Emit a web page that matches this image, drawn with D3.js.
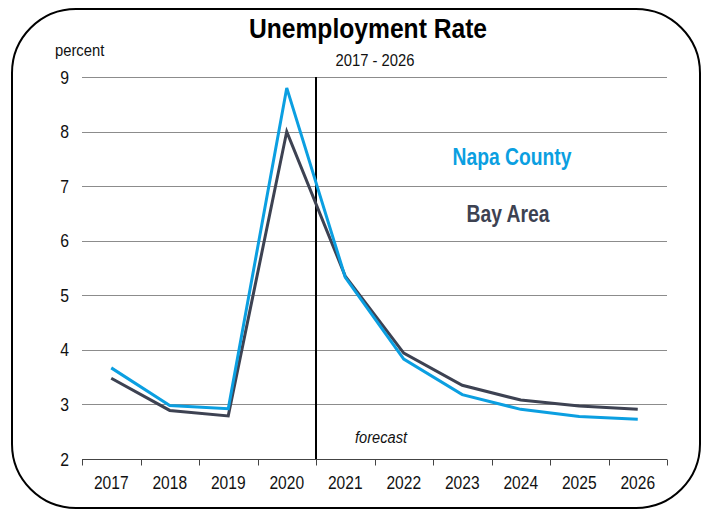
<!DOCTYPE html>
<html>
<head>
<meta charset="utf-8">
<script src="https://cdn.jsdelivr.net/npm/d3@7/dist/d3.min.js"></script>
<style>
  html, body { margin: 0; padding: 0; background: #fff; }
  svg { display: block; }
  text { font-family: "Liberation Sans", Arial, sans-serif; }
</style>
</head>
<body>
<svg id="chart" width="708" height="514"></svg>
<script>
// Unemployment rate, percent
const years = ["2017", "2018", "2019", "2020", "2021", "2022", "2023", "2024", "2025", "2026"];
const napaCounty = [3.67, 2.98, 2.92, 8.8, 5.33, 3.83, 3.18, 2.91, 2.78, 2.73];
const bayArea    = [3.48, 2.89, 2.79, 8.0, 5.35, 3.94, 3.35, 3.08, 2.97, 2.91];
const yTicks = [2, 3, 4, 5, 6, 7, 8, 9];
const forecastStart = "2021";

const svg = d3.select("#chart");

// condensed text: place at (x, y) and squeeze horizontally
function label(parent, x, y, str, opts) {
  const o = Object.assign({ size: 16, sx: 0.85, anchor: "middle", weight: "normal", style: "normal", fill: "#111" }, opts);
  return parent.append("text")
    .attr("transform", `translate(${x},${y}) scale(${o.sx},1)`)
    .attr("text-anchor", o.anchor)
    .attr("font-size", o.size)
    .attr("font-weight", o.weight)
    .attr("font-style", o.style)
    .attr("fill", o.fill)
    .text(str);
}

// outer rounded frame
svg.append("rect")
  .attr("x", 12).attr("y", 9).attr("width", 688).attr("height", 499)
  .attr("rx", 64).attr("ry", 64)
  .attr("fill", "#fff").attr("stroke", "#000").attr("stroke-width", 2);

const margin = { left: 82, right: 41, top: 77, bottom: 55 };
const W = 708, H = 514;

const x = d3.scaleBand().domain(years).range([margin.left, W - margin.right]).padding(0);
const y = d3.scaleLinear().domain([2, 9]).range([H - margin.bottom, margin.top]);

// horizontal gridlines
svg.append("g")
  .selectAll("line")
  .data(yTicks.filter(d => d > 2))
  .join("line")
  .attr("x1", margin.left).attr("x2", W - margin.right)
  .attr("y1", d => Math.round(y(d)) + 0.5).attr("y2", d => Math.round(y(d)) + 0.5)
  .attr("stroke", "#8c8c8c").attr("stroke-width", 1);

// y tick labels
const yLab = svg.append("g");
yTicks.forEach(d => label(yLab, 69, y(d) + 6.5, d, { size: 19, sx: 0.83, anchor: "end" }));

// x axis with ticks on category boundaries
const xAxisG = svg.append("g")
  .attr("transform", `translate(0,${Math.round(y(2)) + 0.5})`);
xAxisG.append("line")
  .attr("x1", margin.left).attr("x2", W - margin.right)
  .attr("stroke", "#444").attr("stroke-width", 1);
const boundaries = years.map(d => x(d)).concat([x(years[years.length - 1]) + x.bandwidth()]);
xAxisG.selectAll("line.tick")
  .data(boundaries)
  .join("line")
  .attr("class", "tick")
  .attr("x1", d => Math.round(d) + 0.5).attr("x2", d => Math.round(d) + 0.5)
  .attr("y1", 0).attr("y2", 6)
  .attr("stroke", "#444").attr("stroke-width", 1);
years.forEach(d => label(xAxisG, x(d) + x.bandwidth() / 2, 29, d, { size: 19, sx: 0.82 }));

// forecast divider
const fx = Math.round(x(forecastStart));
svg.append("line")
  .attr("x1", fx).attr("x2", fx)
  .attr("y1", y(9)).attr("y2", y(2))
  .attr("stroke", "#000").attr("stroke-width", 2);

label(svg, 381, 443, "forecast", { size: 17, sx: 0.86, style: "italic" });

// series lines
const line = d3.line()
  .x((d, i) => x(years[i]) + x.bandwidth() / 2)
  .y(d => y(d));

svg.append("path")
  .datum(bayArea)
  .attr("d", line)
  .attr("fill", "none").attr("stroke", "#3d4252").attr("stroke-width", 3)
  .attr("stroke-linejoin", "miter");

svg.append("path")
  .datum(napaCounty)
  .attr("d", line)
  .attr("fill", "none").attr("stroke", "#0b9fe1").attr("stroke-width", 3)
  .attr("stroke-linejoin", "miter");

// legend labels
label(svg, 512, 165, "Napa County", { size: 23, sx: 0.84, weight: "bold", fill: "#0b9fe1" });
label(svg, 508, 222, "Bay Area", { size: 23, sx: 0.84, weight: "bold", fill: "#3d4252" });

// titles
label(svg, 368, 38, "Unemployment Rate", { size: 28, sx: 0.88, weight: "bold", fill: "#000" });
label(svg, 375, 66, "2017 - 2026", { size: 17, sx: 0.87 });
label(svg, 55, 56, "percent", { size: 17, sx: 0.87, anchor: "start" });
</script>
</body>
</html>
